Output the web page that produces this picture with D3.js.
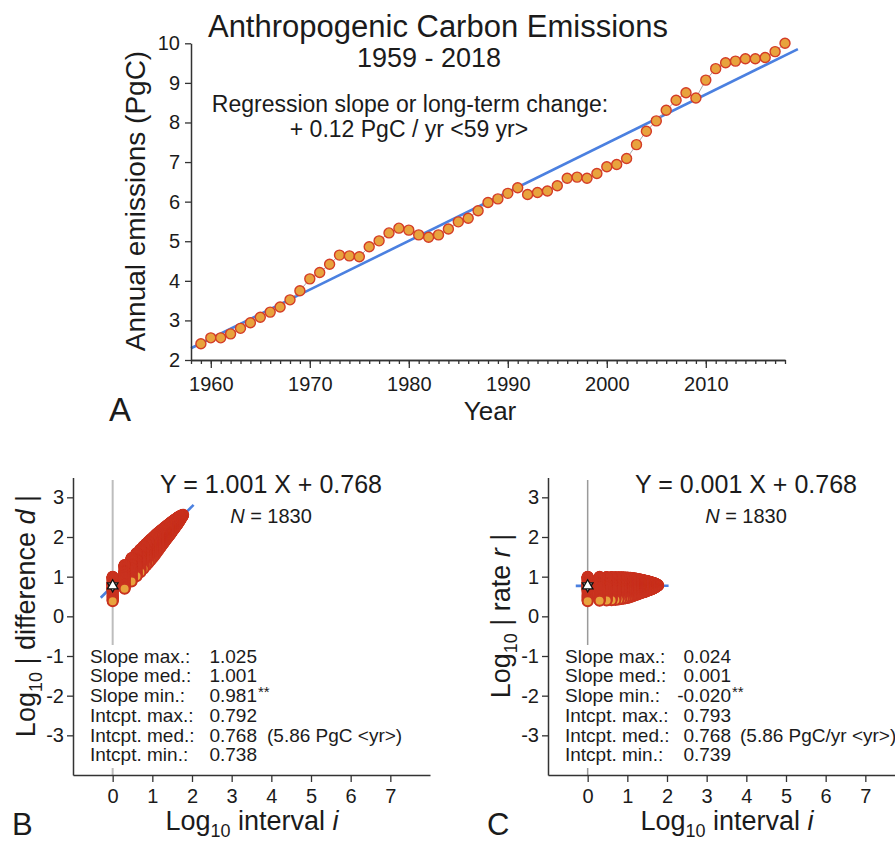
<!DOCTYPE html>
<html>
<head>
<meta charset="utf-8">
<script src="https://cdn.jsdelivr.net/npm/d3@7"></script>
<style>
  body { margin: 0; background: #fff; }
  svg { display: block; }
</style>
</head>
<body>
<svg id="chart" width="895" height="842"></svg>
<script>
// Annual anthropogenic carbon emissions, PgC per year, 1959-2018
const years = [
  1959, 1960, 1961, 1962, 1963, 1964, 1965, 1966, 1967, 1968,
  1969, 1970, 1971, 1972, 1973, 1974, 1975, 1976, 1977, 1978,
  1979, 1980, 1981, 1982, 1983, 1984, 1985, 1986, 1987, 1988,
  1989, 1990, 1991, 1992, 1993, 1994, 1995, 1996, 1997, 1998,
  1999, 2000, 2001, 2002, 2003, 2004, 2005, 2006, 2007, 2008,
  2009, 2010, 2011, 2012, 2013, 2014, 2015, 2016, 2017, 2018
];
const emissions = [
  2.41, 2.56, 2.56, 2.66, 2.80, 2.94, 3.08, 3.21, 3.34, 3.52,
  3.75, 4.05, 4.21, 4.42, 4.65, 4.63, 4.61, 4.86, 5.01, 5.21,
  5.33, 5.28, 5.16, 5.10, 5.16, 5.31, 5.49, 5.58, 5.77, 5.98,
  6.07, 6.21, 6.35, 6.18, 6.23, 6.27, 6.40, 6.59, 6.62, 6.59,
  6.71, 6.88, 6.94, 7.09, 7.44, 7.78, 8.04, 8.31, 8.56, 8.75,
  8.62, 9.07, 9.36, 9.51, 9.55, 9.61, 9.61, 9.64, 9.79, 10.00
];

// Tick values
const emissionTicks = [2, 3, 4, 5, 6, 7, 8, 9, 10];
const decadeTicks = [1960, 1970, 1980, 1990, 2000, 2010];
const logIntervalTicks = [0, 1, 2, 3, 4, 5, 6, 7];
const logValueTicks = [-3, -2, -1, 0, 1, 2, 3];

// Fit summaries for the interval panels
const statLabels = ["Slope max.:", "Slope med.:", "Slope min.:", "Intcpt. max.:", "Intcpt. med.:", "Intcpt. min.:"];
const statsDiff = ["1.025", "1.001", "0.981", "0.792", "0.768", "0.738"];
const statsRate = ["0.024", "0.001", "-0.020", "0.793", "0.768", "0.739"];
const fitDiff = [1.001, 0.768];   // slope, intercept
const fitRate = [0.001, 0.768];
const sampleCount = 1830;

const FONT = '"Liberation Sans", Arial, Helvetica, sans-serif';
const INK = "#1b1b1b";
const AXIS = "#333";
const ORANGE = "#e8a33d";
const RED_EDGE = "#d43c27";
const RED_DARK = "#c9321f";
const BLUE = "#4b80e0";

const svg = d3.select("#chart").attr("font-family", FONT);

function styleAxis(g, size) {
  g.attr("font-family", FONT).attr("font-size", size);
  g.select(".domain").attr("stroke", AXIS).attr("stroke-width", 1.5);
  g.selectAll(".tick line").attr("stroke", AXIS).attr("stroke-width", 1.3);
  g.selectAll(".tick text").attr("fill", INK);
}

function addText(x, y, txt, size, anchor = "start", extra = {}) {
  const t = svg.append("text").attr("x", x).attr("y", y)
    .attr("font-size", size).attr("text-anchor", anchor).attr("fill", INK).text(txt);
  Object.entries(extra).forEach(([k, v]) => t.attr(k, v));
  return t;
}

// ---------- Panel A: annual emissions time series ----------
const xA = d3.scaleLinear().domain([1958, 2018]).range([191, 785]);
const yA = d3.scaleLinear().domain([2, 10]).range([360, 43.3]);

// least-squares trend through the annual values
const mx = d3.mean(years), my = d3.mean(emissions);
const slopeA = d3.sum(years, (yr, k) => (yr - mx) * (emissions[k] - my)) /
               d3.sum(years, yr => (yr - mx) ** 2);
const interceptA = my - slopeA * mx;
const trendSpan = [1958, 2019.3];

svg.append("line")
  .attr("x1", xA(trendSpan[0])).attr("y1", yA(interceptA + slopeA * trendSpan[0]))
  .attr("x2", xA(trendSpan[1])).attr("y2", yA(interceptA + slopeA * trendSpan[1]))
  .attr("stroke", BLUE).attr("stroke-width", 2.6);

svg.append("path")
  .datum(years.map((yr, k) => [yr, emissions[k]]))
  .attr("fill", "none").attr("stroke", "#a8a8a8").attr("stroke-width", 1)
  .attr("d", d3.line().x(d => xA(d[0])).y(d => yA(d[1])));

svg.append("g").selectAll("circle")
  .data(years.map((yr, k) => [yr, emissions[k]]))
  .join("circle")
  .attr("cx", d => xA(d[0])).attr("cy", d => yA(d[1])).attr("r", 5)
  .attr("fill", ORANGE).attr("stroke", RED_EDGE).attr("stroke-width", 1.4);

// axes of panel A
svg.append("g").attr("transform", "translate(0,360)")
  .call(d3.axisBottom(xA).tickValues(d3.range(1958, 2019)).tickSize(4).tickFormat("").tickSizeOuter(0))
  .call(g => styleAxis(g, 20));
svg.append("g").attr("transform", "translate(0,360)")
  .call(d3.axisBottom(xA).tickValues(decadeTicks).tickSize(8).tickPadding(9).tickFormat(d3.format("d")).tickSizeOuter(0))
  .call(g => styleAxis(g, 20));
svg.append("g").attr("transform", "translate(191,0)")
  .call(d3.axisLeft(yA).tickValues(emissionTicks).tickSize(6).tickPadding(5).tickSizeOuter(0))
  .call(g => styleAxis(g, 20));

addText(438, 37, "Anthropogenic Carbon Emissions", 31, "middle");
addText(429, 67, "1959 - 2018", 27, "middle");
addText(410, 112, "Regression slope or long-term change:", 23, "middle");
addText(409, 137, "+ 0.12 PgC / yr <59 yr>", 23, "middle");
addText(0, 0, "Annual emissions (PgC)", 28, "middle", { transform: "translate(145,201) rotate(-90)" });
addText(490, 420, "Year", 26, "middle");
addText(109, 421, "A", 33, "start");

// ---------- Panels B and C: every run of consecutive years ----------
const n = emissions.length;
const windows = [];
for (let len = 1; len <= n; len++) {
  for (let s = 0; s + len <= n; s++) {
    const total = d3.sum(emissions.slice(s, s + len));
    windows.push({ len, start: s, total, rate: total / len });
  }
}
// paint longest runs first and, within a run length, latest start first,
// so the run beginning in the first year ends up on top of each column
const paintOrder = windows.slice().sort((a, b) => (b.len - a.len) || (b.start - a.start));

function intervalPanel(opt) {
  const x = d3.scaleLinear().domain([-1, 8]).range([opt.left, opt.left + 357]);
  const y = d3.scaleLinear().domain([-4, 3.5]).range([775, 477.5]);
  const g = svg.append("g");

  // reference line at log interval 0
  g.append("line")
    .attr("x1", x(0)).attr("x2", x(0)).attr("y1", 480).attr("y2", 775)
    .attr("stroke", opt.zeroColor).attr("stroke-width", opt.zeroWidth);

  // fitted line
  const span = [-0.3, 2.04];
  g.append("line")
    .attr("x1", x(span[0])).attr("y1", y(opt.fit[1] + opt.fit[0] * span[0]))
    .attr("x2", x(span[1])).attr("y2", y(opt.fit[1] + opt.fit[0] * span[1]))
    .attr("stroke", BLUE).attr("stroke-width", 2.6);

  g.append("g").selectAll("circle")
    .data(paintOrder)
    .join("circle")
    .attr("cx", d => x(Math.log10(d.len)))
    .attr("cy", d => y(Math.log10(opt.value(d))))
    .attr("r", 5)
    .attr("fill", ORANGE).attr("stroke", RED_DARK).attr("stroke-width", 2);

  // median fit marker
  const mxk = x(0), myk = y(opt.fit[1]);
  [180, 0].forEach(rot => {
    g.append("path")
      .attr("d", d3.symbol(d3.symbolTriangle, 48)())
      .attr("transform", `translate(${mxk},${myk}) rotate(${rot})`)
      .attr("fill", "#fff").attr("stroke", "#111").attr("stroke-width", 1.3);
  });

  // axes
  g.append("g").attr("transform", "translate(0,775)")
    .call(d3.axisBottom(x).tickValues(logIntervalTicks).tickSize(7).tickPadding(7).tickFormat(d => String(d)).tickSizeOuter(0))
    .call(a => styleAxis(a, 20));
  g.append("g").attr("transform", `translate(${opt.left},0)`)
    .call(d3.axisLeft(y).tickValues(logValueTicks).tickSize(6).tickPadding(3).tickFormat(d => String(d)).tickSizeOuter(0))
    .call(a => styleAxis(a, 20));

  // statistics block
  const sx = opt.left + 17;
  g.append("rect").attr("x", sx - 4).attr("y", 645).attr("width", 176).attr("height", 123).attr("fill", "#fff");
  statLabels.forEach((lab, k) => {
    const yy = 662.7 + k * 19.7;
    g.append("text").attr("x", sx).attr("y", yy).attr("font-size", 19).attr("fill", INK).text(lab);
    g.append("text").attr("x", opt.valueEnd).attr("y", yy).attr("font-size", 19)
      .attr("text-anchor", "end").attr("fill", INK).text(opt.stats[k]);
  });
  g.append("text").attr("x", opt.valueEnd + 1).attr("y", 662.7 + 2 * 19.7 - 5)
    .attr("font-size", 15).attr("fill", INK).text("**");
  g.append("text").attr("x", opt.noteX).attr("y", 662.7 + 4 * 19.7)
    .attr("font-size", 19).attr("fill", INK).text(opt.note);

  // headline equation
  g.append("text").attr("x", opt.center).attr("y", 493).attr("font-size", 25)
    .attr("text-anchor", "middle").attr("fill", INK)
    .text(`Y = ${opt.stats[1]} X + ${opt.stats[4]}`);
  const nt = g.append("text").attr("x", opt.center).attr("y", 523).attr("font-size", 20)
    .attr("text-anchor", "middle").attr("fill", INK);
  nt.append("tspan").attr("font-style", "italic").text("N");
  nt.append("tspan").text(` = ${sampleCount}`);

  // axis titles
  const yl = g.append("text").attr("font-size", 27).attr("text-anchor", "middle").attr("fill", INK)
    .attr("transform", `translate(${opt.left - 38},616) rotate(-90)`);
  yl.append("tspan").text("Log");
  yl.append("tspan").attr("font-size", 18).attr("dy", 7).text("10");
  yl.append("tspan").attr("dy", -7).text(` | ${opt.yWord} `);
  yl.append("tspan").attr("font-style", "italic").text(opt.yVar);
  yl.append("tspan").text(" |");

  const xl = g.append("text").attr("x", opt.left + 179).attr("y", 830).attr("font-size", 27)
    .attr("text-anchor", "middle").attr("fill", INK);
  xl.append("tspan").text("Log");
  xl.append("tspan").attr("font-size", 18).attr("dy", 7).text("10");
  xl.append("tspan").attr("dy", -7).text(" interval ");
  xl.append("tspan").attr("font-style", "italic").text("i");

  g.append("text").attr("x", opt.left - 61).attr("y", 835).attr("font-size", 31).attr("fill", INK).text(opt.letter);
}

intervalPanel({
  left: 73, center: 271, valueEnd: 257, noteX: 267,
  value: d => d.total, fit: fitDiff, stats: statsDiff,
  note: "(5.86 PgC <yr>)", yWord: "difference", yVar: "d", letter: "B",
  zeroColor: "#bdbdbd", zeroWidth: 2
});
intervalPanel({
  left: 548, center: 746, valueEnd: 731, noteX: 740,
  value: d => d.rate, fit: fitRate, stats: statsRate,
  note: "(5.86 PgC/yr <yr>)", yWord: "rate", yVar: "r", letter: "C",
  zeroColor: "#9a9a9a", zeroWidth: 1.5
});
</script>
</body>
</html>
